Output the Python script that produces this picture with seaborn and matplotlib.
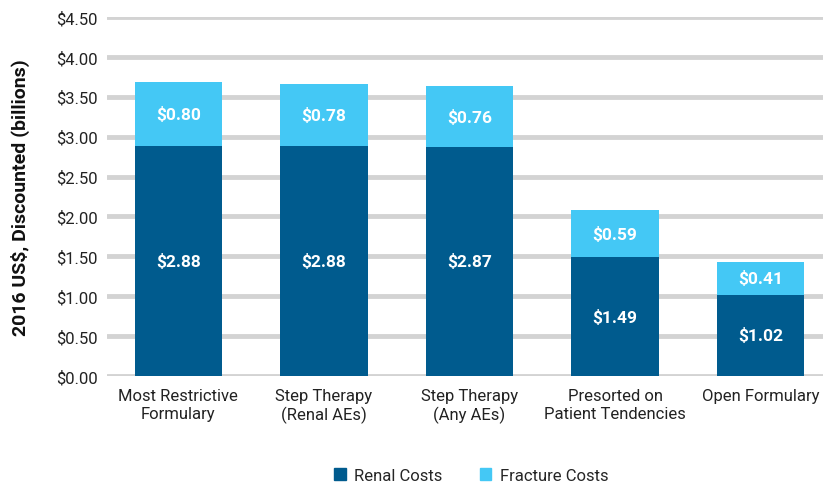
import pandas as pd
import matplotlib.pyplot as plt
import matplotlib.ticker as mticker
from matplotlib.patches import Patch
import seaborn as sns

# data
categories = ["Most Restrictive\nFormulary", "Step Therapy\n(Renal AEs)", "Step Therapy\n(Any AEs)",
              "Presorted on\nPatient Tendencies", "Open Formulary"]
renal = [2.88, 2.88, 2.87, 1.49, 1.02]
fracture = [0.80, 0.78, 0.76, 0.59, 0.41]

RENAL_COLOR = "#005B8E"
FRACTURE_COLOR = "#44C8F5"

df = pd.DataFrame({"category": categories, "renal": renal, "fracture": fracture})
df["total"] = df["renal"] + df["fracture"]

sns.set_theme(style="white")
plt.rcParams["font.family"] = ["Roboto", "DejaVu Sans"]

fig = plt.figure(figsize=(8.24, 4.85), dpi=100)
ax = fig.add_axes([0.13, 0.2227, 0.869, 0.7403])

sns.barplot(data=df, x="category", y="total", color=FRACTURE_COLOR, width=0.6,
            saturation=1, linewidth=0, ax=ax, zorder=3)
sns.barplot(data=df, x="category", y="renal", color=RENAL_COLOR, width=0.6,
            saturation=1, linewidth=0, ax=ax, zorder=3)

# value labels
for i, row in df.iterrows():
    ax.text(i, row["renal"] / 2, f"${row['renal']:.2f}", ha="center", va="center",
            color="white", fontsize=12.5, fontweight="bold", zorder=4)
    ax.text(i, row["renal"] + row["fracture"] / 2, f"${row['fracture']:.2f}", ha="center",
            va="center", color="white", fontsize=12.5, fontweight="bold", zorder=4)

ax.set_ylim(0, 4.5)
ax.set_xlim(-0.49, 4.43)
ax.yaxis.set_major_locator(mticker.MultipleLocator(0.5))
ax.yaxis.set_major_formatter(mticker.FuncFormatter(lambda v, _: f"${v:.2f}"))
ax.yaxis.grid(True, color="#D3D3D3", linewidth=3.5, zorder=0)
ax.set_axisbelow(True)
for s in ax.spines.values():
    s.set_visible(False)
ax.tick_params(axis="y", length=0, pad=7, labelsize=12, labelcolor="#222222")
ax.tick_params(axis="x", length=0, pad=9, labelsize=12, labelcolor="#222222")
ax.set_xlabel("")
ax.set_ylabel("2016 US$, Discounted (billions)", fontsize=14, fontweight="bold",
              color="#111111")
ax.yaxis.set_label_coords(-0.108, 0.5)

handles = [Patch(color=RENAL_COLOR, label="Renal Costs"),
           Patch(color=FRACTURE_COLOR, label="Fracture Costs")]
fig.legend(handles=handles, loc="center", bbox_to_anchor=(0.572, 0.018), ncol=2,
           frameon=False, fontsize=12, handlelength=0.7, handleheight=0.7,
           columnspacing=2.2, handletextpad=0.5)

fig.savefig("out.png", dpi=100)
